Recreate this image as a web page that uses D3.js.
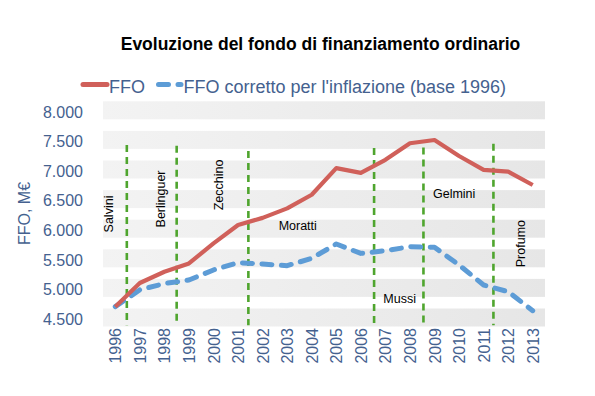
<!DOCTYPE html>
<html>
<head>
<meta charset="utf-8">
<script src="https://cdn.jsdelivr.net/npm/d3@7"></script>
<style>
  html, body { margin: 0; padding: 0; background: #fff; }
  svg { display: block; font-family: "Liberation Sans", Arial, sans-serif; }
</style>
</head>
<body>
<svg id="chart" width="595" height="396"></svg>
<script>
// ---- data ----
const years = [1996,1997,1998,1999,2000,2001,2002,2003,2004,2005,2006,2007,2008,2009,2010,2011,2012,2013];
const ffo = [4700,5100,5290,5430,5770,6080,6200,6360,6590,7040,6960,7180,7460,7515,7245,7010,6980,6755];
const ffoReal = [4700,4985,5090,5150,5320,5443,5420,5392,5517,5758,5600,5645,5713,5703,5404,5066,4953,4632];
const yTicks = [4500,5000,5500,6000,6500,7000,7500,8000];
const govLines = [1996.47, 1998.5, 2001.42, 2006.54, 2008.55, 2011.4];
const govLineTops = [7430, 7420, 7330, 7380, 7390, 7450];
const govNames = ["Salvini","Berlinguer","Zecchino","Moratti","Mussi","Gelmini","Profumo"];
const govLabelPos = [[1995.74, 6265, true],[1997.84, 6519, true],[2000.2, 6755, true],[2003.43, 6062, false],[2007.58, 4830, false],[2009.8, 6603, false],[2012.5, 5765, true]];
const legendNames = ["FFO", "FFO corretto per l'inflazione (base 1996)"];
const title = "Evoluzione del fondo di finanziamento ordinario";
const yTitle = "FFO, M€";

(function () {
// ---- layout ----
const svg = d3.select("#chart");
const pLeft = 103, pRight = 545, pTop = 111.3, pBottom = 318.5;
const x = d3.scalePoint().domain(years).range([pLeft, pRight]).padding(0.5);
const xl = d3.scaleLinear().domain([1996, 2013]).range([x(1996), x(2013)]);
const y = d3.scaleLinear().domain([4500, 8000]).range([pBottom, pTop]);

const blueText = "#44618F";
const red = "#D0605A";
const blue = "#5D9CD6";
const green = "#4FA52E";

// bands
const grad = svg.append("defs").append("linearGradient").attr("id","bandg")
  .attr("x1","0").attr("x2","1").attr("y1","0").attr("y2","0");
grad.append("stop").attr("offset","0").attr("stop-color","#F3F3F3");
grad.append("stop").attr("offset","1").attr("stop-color","#E6E6E6");
svg.append("g").selectAll("rect").data(yTicks).join("rect")
  .attr("x", pLeft).attr("width", pRight - pLeft)
  .attr("y", d => y(d) - 10).attr("height", 18)
  .attr("fill", "url(#bandg)");

// title
svg.append("text").attr("x", 320.5).attr("y", 49.5).attr("text-anchor","middle")
  .attr("font-size", 17.5).attr("font-weight","bold").attr("fill","#000").text(title);

// legend
const lg = svg.append("g");
lg.append("line").attr("x1", 83).attr("x2", 107).attr("y1", 84.5).attr("y2", 84.5)
  .attr("stroke", red).attr("stroke-width", 5).attr("stroke-linecap","round");
lg.append("text").attr("x", 109).attr("y", 93).attr("font-size", 18).attr("fill", blueText).text(legendNames[0]);
lg.append("line").attr("x1", 158.5).attr("x2", 181).attr("y1", 84.5).attr("y2", 84.5)
  .attr("stroke", blue).attr("stroke-width", 5).attr("stroke-linecap","round")
  .attr("stroke-dasharray","10,9.5");
lg.append("text").attr("x", 183.5).attr("y", 93).attr("font-size", 18).attr("fill", blueText).text(legendNames[1]);

// y axis
const yAxis = d3.axisLeft(y).tickValues(yTicks).tickSize(0).tickPadding(0)
  .tickFormat(d => d3.format(",")(d).replace(",", "."));
const yg = svg.append("g").attr("transform", "translate(83,0)").call(yAxis);
yg.select(".domain").remove();
yg.selectAll("text").attr("font-size", 16).attr("fill", blueText)
  .attr("font-family", "Liberation Sans, Arial, sans-serif").attr("dy", "0.36em");

svg.append("text").attr("transform", "translate(30,213.5) rotate(-90)")
  .attr("text-anchor","middle").attr("font-size", 16).attr("fill", blueText).text(yTitle);

// x axis
const xAxis = d3.axisBottom(x).tickSize(0).tickPadding(0);
const xg = svg.append("g").attr("transform", "translate(0,328)").call(xAxis);
xg.select(".domain").remove();
xg.selectAll("text").attr("font-size", 16).attr("fill", blueText)
  .attr("font-family", "Liberation Sans, Arial, sans-serif")
  .attr("transform", "rotate(-90)").attr("text-anchor","end")
  .attr("x", 0).attr("y", 0).attr("dy", "0.35em");

// government lines
svg.append("g").selectAll("line").data(govLines).join("line")
  .attr("x1", d => xl(d)).attr("x2", d => xl(d))
  .attr("y1", (d, i) => y(govLineTops[i])).attr("y2", y(4385))
  .attr("stroke", green).attr("stroke-width", 2.6).attr("stroke-dasharray", "7,5");

// government labels
svg.append("g").selectAll("text").data(govNames).join("text")
  .attr("font-size", 12.5).attr("fill", "#000")
  .attr("text-anchor","middle")
  .attr("transform", (d, i) => {
    const p = govLabelPos[i];
    return `translate(${xl(p[0])},${y(p[1])})` + (p[2] ? " rotate(-90)" : "");
  })
  .attr("dy", "0.35em")
  .text(d => d);

// series lines
const line = d3.line().x((d, i) => x(years[i])).y(d => y(d));
svg.append("path").datum(ffoReal).attr("d", line).attr("fill","none")
  .attr("stroke", blue).attr("stroke-width", 5).attr("stroke-linecap","round")
  .attr("stroke-linejoin","round").attr("stroke-dasharray","10,9.5");
svg.append("path").datum(ffo).attr("d", line).attr("fill","none")
  .attr("stroke", red).attr("stroke-width", 4.2).attr("stroke-linejoin","round");
})();
</script>
</body>
</html>
